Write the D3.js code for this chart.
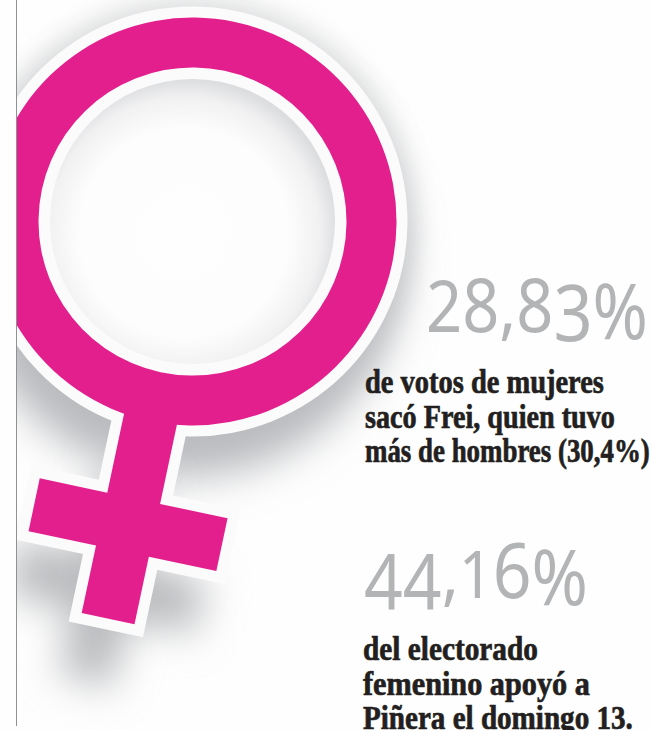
<!DOCTYPE html>
<html>
<head>
<meta charset="utf-8">
<script src="https://cdn.jsdelivr.net/npm/d3@7"></script>
<style>
  html, body { margin: 0; padding: 0; background: #fefefe; }
  svg { display: block; }
</style>
</head>
<body>
<svg></svg>
<script>
/** Main values */
const percentages = [28.83, 44.16];
const captions = [
    ['de votos de mujeres', 'sacó Frei, quien tuvo', 'más de hombres (30,4%)'],
    ['del electorado', 'femenino apoyó a', 'Piñera el domingo 13.']
];

let width = 652;
let height = 730;
const pink = '#e31f8d';

// layout of each block: number position and caption position
const numberPos = [{x: 426, y: 332, w: 222}, {x: 364, y: 598, w: 224}];
const captionPos = [
    {x: 365, y: 393, w: [239, 250, 285]},
    {x: 363, y: 660, w: [175, 227, 270]}
];
const lineStep = 34.6;

// the numbers use old style figures: size and drop below the baseline per glyph
const glyphStyle = {
    '1': [66, 0], '2': [72, 0], '3': [78, 9], '4': [76, 11],
    '6': [76, 0], '8': [74, 0], ',': [72, 0], '%': [76, 7]
};

// symbol sizes, centre of the ring is the origin
const cx = 192.5, cy = 221.5, tilt = 12;
const ringOuter = 204, ringInner = 154;
const stem = 27, armLen = 96, armV = 310, stemTop = 195, stemEnd = 406;

const crossPoints = [
    [-stem, stemTop], [stem, stemTop], [stem, armV - stem], [armLen, armV - stem],
    [armLen, armV + stem], [stem, armV + stem], [stem, stemEnd], [-stem, stemEnd],
    [-stem, armV + stem], [-armLen, armV + stem], [-armLen, armV - stem], [-stem, armV - stem]
];
const crossAttr = crossPoints.map(p => p.join(',')).join(' ');

let svg = d3.select('svg').attr('width', width).attr('height', height);
let defs = svg.append('defs');

/** Blur and gradient definitions */
const drawDefs = () => {
    [['halo', 12], ['soft', 20]].forEach(f => {
        defs.append('filter').attr('id', f[0])
            .attr('filterUnits', 'userSpaceOnUse')
            .attr('x', -100).attr('y', -100).attr('width', 900).attr('height', 1000)
            .append('feGaussianBlur').attr('stdDeviation', f[1]);
    });

    defs.append('clipPath').attr('id', 'page')
        .append('rect').attr('x', 17).attr('y', 0).attr('width', width).attr('height', height);

    let grad = defs.append('radialGradient').attr('id', 'hole')
        .attr('cx', '47%').attr('cy', '54%').attr('r', '54%');
    [[0, '#fefefe'], [0.68, '#fdfdfd'], [0.88, '#f1f1f2'], [1, '#dcdddf']].forEach(s => {
        grad.append('stop').attr('offset', s[0]).attr('stop-color', s[1]);
    });
};

/** Soft shadows behind the symbol */
const drawShadow = () => {
    let g = svg.append('g').attr('clip-path', 'url(#page)');

    g.append('circle')
        .attr('cx', cx).attr('cy', cy).attr('r', 224)
        .attr('fill', '#dfe0e1')
        .attr('filter', 'url(#halo)');

    g.append('circle')
        .attr('cx', cx - 8).attr('cy', cy + 38).attr('r', 218)
        .attr('fill', '#babcbf')
        .attr('filter', 'url(#soft)');

    g.append('polygon')
        .attr('transform', `translate(${cx - 22},${cy + 62}) rotate(${tilt})`)
        .attr('points', crossAttr)
        .attr('fill', '#b5b7ba')
        .attr('filter', 'url(#soft)');
};

/** Ring and cross: white border first, pink on top */
const drawSymbol = () => {
    let g = svg.append('g')
        .attr('clip-path', 'url(#page)')
        .append('g')
        .attr('transform', `translate(${cx},${cy}) rotate(${tilt})`);

    g.append('polygon')
        .attr('points', crossAttr)
        .attr('fill', '#fbfbfb')
        .attr('stroke', '#fbfbfb')
        .attr('stroke-width', 22);

    g.append('circle').attr('r', 215).attr('fill', '#fbfbfb');

    g.append('polygon')
        .attr('points', crossAttr)
        .attr('fill', pink);

    g.append('path')
        .attr('d', d3.arc()({innerRadius: ringInner, outerRadius: ringOuter, startAngle: 0, endAngle: 2 * Math.PI}))
        .attr('fill', pink);

    g.append('circle').attr('r', 143).attr('fill', '#fbfbfb');
    svg.append('circle')
        .attr('cx', cx).attr('cy', cy).attr('r', 142.5)
        .attr('fill', 'url(#hole)');
};

// squeeze a text to the measured width from the picture
const fitText = (sel, x, y, w) => {
    sel.attr('transform', function (d, i) {
        let len = this.getComputedTextLength();
        return `translate(${x(d, i)},${y(d, i)}) scale(${w(d, i) / len},1)`;
    });
};

/** Big grey numbers and bold captions */
const drawText = () => {
    const fmt = d3.formatLocale({decimal: ',', thousands: '.', grouping: [3], currency: ['', '']}).format('.2f');

    let numbers = svg.selectAll('.number')
        .data(percentages)
        .enter()
        .append('text')
        .attr('class', 'number')
        .attr('font-family', '"Noto Sans"')
        .attr('fill', '#b2b4b6');

    numbers.each(function (d) {
        let chars = (fmt(d) + '%').split('');
        d3.select(this).selectAll('tspan')
            .data(chars)
            .enter()
            .append('tspan')
            .attr('font-size', c => glyphStyle[c][0])
            .attr('dy', (c, i) => glyphStyle[c][1] - (i ? glyphStyle[chars[i - 1]][1] : 0))
            .text(c => c);
    });

    fitText(numbers, (d, i) => numberPos[i].x, (d, i) => numberPos[i].y, (d, i) => numberPos[i].w);

    captions.forEach((lines, i) => {
        let cap = svg.selectAll('.cap' + i)
            .data(lines)
            .enter()
            .append('text')
            .attr('class', 'cap' + i)
            .attr('font-family', '"Liberation Serif", serif')
            .attr('font-weight', 700)
            .attr('font-size', 34)
            .attr('fill', '#231f20')
            .attr('stroke', '#231f20')
            .attr('stroke-width', 0.7)
            .text(d => d);

        fitText(cap, () => captionPos[i].x, (d, j) => captionPos[i].y + j * lineStep, (d, j) => captionPos[i].w[j]);
    });
};

/** Thin page rule on the left */
const drawRule = () => {
    svg.append('line')
        .attr('x1', 16.5).attr('x2', 16.5)
        .attr('y1', 0).attr('y2', 726)
        .attr('stroke', '#8f9193')
        .attr('stroke-width', 1);
};

drawDefs();
drawShadow();
drawSymbol();
drawRule();
drawText();
</script>
</body>
</html>
